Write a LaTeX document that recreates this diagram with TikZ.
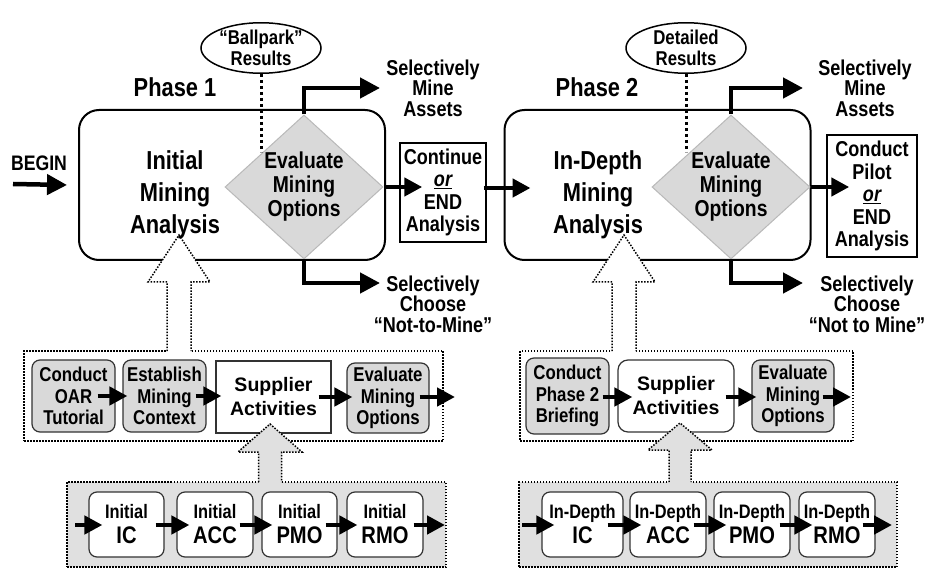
\documentclass[tikz,border=0pt]{standalone}
\usepackage{fontspec}
\setmainfont{Liberation Sans}
\newfontfamily\nar{Liberation Sans}[FakeStretch=0.84]
\usetikzlibrary{arrows.meta,shapes.geometric}
\definecolor{dgrey}{gray}{0.85}
\definecolor{lgrey}{gray}{0.88}
\tikzset{
  bigtxt/.style={font=\nar\bfseries\fontsize{26}{32}\selectfont, align=center, inner sep=0pt},
  phasetxt/.style={font=\nar\bfseries\fontsize{26}{30}\selectfont, inner sep=0pt},
  outtxt/.style={font=\nar\bfseries\fontsize{21.5}{20.5}\selectfont, align=center, inner sep=0pt},
  endbox/.style={draw, line width=1.5pt, fill=white, inner sep=0pt, align=center,
     font=\nar\bfseries\fontsize{21.5}{22.5}\selectfont},
  phasebox/.style={draw, line width=2pt, rounded corners=20pt, fill=white,
     minimum width=306pt, minimum height=150pt, inner sep=0pt},
  evaldia/.style={diamond, draw=gray!55, line width=1pt, fill=dgrey, shape aspect=1.1,
     minimum width=158pt, minimum height=144pt, inner sep=0pt, align=center,
     font=\nar\bfseries\fontsize{23}{24}\selectfont},
  resell/.style={ellipse, draw, line width=1.5pt, fill=white, minimum width=120pt,
     minimum height=47pt, inner sep=0pt, align=center,
     font=\nar\bfseries\fontsize{20}{21}\selectfont},
  dotline/.style={line width=1.5pt, dash pattern=on 1.5pt off 1.5pt},
  resline/.style={line width=3pt, dash pattern=on 3pt off 3pt},
  grpbox/.style={dotline, draw, fill=white, inner sep=0pt},
  lowbox/.style={dotline, draw, fill=lgrey, inner sep=0pt},
  greybox/.style={draw=black!80, line width=1.2pt, rounded corners=8pt, fill=dgrey,
     inner sep=0pt, align=center, font=\nar\bfseries\fontsize{20}{21.5}\selectfont},
  supbox/.style={draw=black!80, line width=1.2pt, fill=white, inner sep=0pt, align=center,
     font=\bfseries\fontsize{19.5}{24}\selectfont},
  stepbox/.style={draw=black!80, line width=1.2pt, rounded corners=8pt, fill=white,
     inner sep=0pt, align=center, minimum height=65pt,
     font=\nar\bfseries\fontsize{19.5}{25}\selectfont},
  arr/.style={line width=4.5pt, -{Triangle[length=20pt,width=20pt]}},
  sarr/.style={line width=4.5pt, -{Triangle[length=18pt,width=18pt]}},
}
\newcommand\bigln[1]{{\fontsize{24}{25}\selectfont #1}}
\begin{document}
\begin{tikzpicture}[x=1pt,y=-1pt]
\useasboundingbox (0,0) rectangle (926,569);
\fill[white] (0,0) rectangle (926,569);

% phase boxes
\node[phasebox] (P1) at (232,185) {};
\node[phasebox] (P2) at (657.5,185) {};

% group boxes
\node[grpbox, minimum width=419pt, minimum height=90pt] (G1) at (233.5,396) {};
\node[grpbox, minimum width=333pt, minimum height=90pt] (G2) at (686.5,396) {};
\node[lowbox, minimum width=379pt, minimum height=85pt] (L1) at (256.5,524.5) {};
\node[lowbox, minimum width=378pt, minimum height=85pt] (L2) at (708,524.5) {};

% phase 1 activities
\node[greybox, minimum width=83pt, minimum height=72pt] (A1) at (73.5,396) {Conduct\\OAR\\Tutorial};
\node[greybox, minimum width=83pt, minimum height=72pt] (A2) at (164.5,396) {Establish\\Mining\\Context};
\node[supbox, minimum width=115pt, minimum height=72pt] (A3) at (273.5,397) {Supplier\\Activities};
\node[greybox, minimum width=82pt, minimum height=70pt] (A4) at (388,398) {Evaluate\\Mining\\Options};

% phase 2 activities
\node[greybox, minimum width=83pt, minimum height=76pt] (B1) at (567.5,396) {Conduct\\Phase 2\\Briefing};
\node[supbox, rounded corners=10pt, minimum width=116pt, minimum height=72pt] (B2) at (676,396) {Supplier\\Activities};
\node[greybox, minimum width=82pt, minimum height=72pt] (B3) at (793,396) {Evaluate\\Mining\\Options};

% supplier steps
\node[stepbox, minimum width=75pt] (C1) at (126.5,524.5) {Initial\\\bigln{IC}};
\node[stepbox, minimum width=76pt] (C2) at (215,524.5) {Initial\\\bigln{ACC}};
\node[stepbox, minimum width=75pt] (C3) at (299.5,524.5) {Initial\\\bigln{PMO}};
\node[stepbox, minimum width=76pt] (C4) at (385,524.5) {Initial\\\bigln{RMO}};
\node[stepbox, minimum width=81pt] (D1) at (582.5,524.5) {In-Depth\\\bigln{IC}};
\node[stepbox, minimum width=76pt] (D2) at (668,524.5) {In-Depth\\\bigln{ACC}};
\node[stepbox, minimum width=76pt] (D3) at (752,524.5) {In-Depth\\\bigln{PMO}};
\node[stepbox, minimum width=76pt] (D4) at (837,524.5) {In-Depth\\\bigln{RMO}};

% hollow arrows (upper, white)
\fill[white] (148,282) -- (179,235) -- (210,282) -- (191,282) -- (191,353) -- (167,353) -- (167,282) -- cycle;
\draw[dotline] (167,351) -- (167,282) -- (148,282) -- (179,235) -- (210,282) -- (191,282) -- (191,351);
\fill[white] (593,282) -- (624,235) -- (655,282) -- (636,282) -- (636,353) -- (612,353) -- (612,282) -- cycle;
\draw[dotline] (612,351) -- (612,282) -- (593,282) -- (624,235) -- (655,282) -- (636,282) -- (636,351);
% hollow arrows (lower, grey)
\fill[lgrey] (238,452) -- (270,424) -- (302,452) -- (281.5,452) -- (281.5,484) -- (258.5,484) -- (258.5,452) -- cycle;
\draw[dotline] (258.5,482) -- (258.5,452) -- (238,452) -- (270,424) -- (302,452) -- (281.5,452) -- (281.5,482);
\fill[lgrey] (648,450) -- (680,423) -- (712,450) -- (691,450) -- (691,484) -- (669,484) -- (669,450) -- cycle;
\draw[dotline] (669,482) -- (669,450) -- (648,450) -- (680,423) -- (712,450) -- (691,450) -- (691,482);

% diamonds
\node[evaldia] (d1) at (304,187) {Evaluate\\Mining\\Options};
\node[evaldia] (d2) at (731,187) {Evaluate\\Mining\\Options};

% texts
\node[bigtxt] (t1) at (175,195) {Initial\\Mining\\Analysis};
\node[bigtxt] (t2) at (598,195) {In-Depth\\Mining\\Analysis};
\node[phasetxt] (ph1) at (175,87) {Phase 1};
\node[phasetxt] (ph2) at (597,87) {Phase 2};
\node[font=\nar\bfseries\fontsize{21}{24}\selectfont, inner sep=0pt] (beg) at (39,163) {BEGIN};
\node[outtxt] (sm1) at (433,88) {Selectively\\Mine\\Assets};
\node[outtxt] (sm2) at (865,88) {Selectively\\Mine\\Assets};
\node[outtxt] (sc1) at (433,304) {Selectively\\Choose\\“Not-to-Mine”};
\node[outtxt] (sc2) at (867,304) {Selectively\\Choose\\“Not to Mine”};
\node[endbox, minimum width=86pt, minimum height=99pt] (cont) at (443,192.5) {Continue\\\underline{\itshape or}\\END\\Analysis};
\node[endbox, minimum width=90pt, minimum height=122pt] (pilot) at (872,196) {Conduct\\Pilot\\\underline{\itshape or}\\END\\Analysis};

% result ellipses
\node[resell] (e1) at (261,48) {“Ballpark”\\Results};
\node[resell] (e2) at (686,48) {Detailed\\Results};
\coordinate (e1end) at (261,152);
\coordinate (e2end) at (686,152);
\draw[resline] (e1.south) -- (e1end);
\draw[resline] (e2.south) -- (e2end);

% free ends
\coordinate (begin) at (13,184);
\coordinate (up1) at (380,88);
\coordinate (dn1) at (380,283);
\coordinate (up2) at (803,88);
\coordinate (dn2) at (803,283);
\coordinate (g1out) at (455,397);
\coordinate (g2out) at (851,397);
\coordinate (c0) at (75,525);
\coordinate (c5) at (445,525);
\coordinate (d0) at (522,525);
\coordinate (d5) at (892,525);

% main flow arrows
\draw[arr] (begin) -- ([xshift=-11pt]P1.west);
\draw[arr] (d1.north) |- (up1);
\draw[arr] (d1.south) |- (dn1);
\draw[arr] (d2.north) |- (up2);
\draw[arr] (d2.south) |- (dn2);
\draw[sarr] (d1.east) -- ([xshift=23pt]cont.west |- d1.east);
\draw[sarr] ([xshift=-3pt]cont.east |- 0,188) -- ([xshift=27pt]P2.west |- 0,188);
\draw[sarr] (d2.east) -- ([xshift=23pt]pilot.west |- d2.east);

% group arrows
\draw[sarr] ([xshift=-18pt]A1.east) -- ([xshift=5pt]A2.west);
\draw[sarr] ([xshift=-11pt]A2.east) -- ([xshift=6pt]A3.west |- A2.east);
\draw[sarr] ([xshift=-13pt]A3.east) -- ([xshift=6pt]A4.west |- A3.east);
\draw[sarr] ([xshift=-10pt]A4.east |- A3.east) -- (g1out);
\draw[sarr] ([xshift=-7pt]B1.east |- 0,397) -- ([xshift=15pt]B2.west |- 0,397);
\draw[sarr] ([xshift=-9pt]B2.east |- 0,397) -- ([xshift=5pt]B3.west |- 0,397);
\draw[sarr] ([xshift=-12pt]B3.east |- 0,397) -- (g2out);

% step arrows
\draw[sarr] (c0) -- ([xshift=14pt]C1.west |- c0);
\draw[sarr] ([xshift=-9pt]C1.east |- c0) -- ([xshift=13pt]C2.west |- c0);
\draw[sarr] ([xshift=-14pt]C2.east |- c0) -- ([xshift=11pt]C3.west |- c0);
\draw[sarr] ([xshift=-12pt]C3.east |- c0) -- ([xshift=11pt]C4.west |- c0);
\draw[sarr] ([xshift=-10pt]C4.east |- c0) -- (c5);
\draw[sarr] (d0) -- ([xshift=13pt]D1.west |- d0);
\draw[sarr] ([xshift=-16pt]D1.east |- d0) -- ([xshift=12pt]D2.west |- d0);
\draw[sarr] ([xshift=-13pt]D2.east |- d0) -- ([xshift=13pt]D3.west |- d0);
\draw[sarr] ([xshift=-11pt]D3.east |- d0) -- ([xshift=14pt]D4.west |- d0);
\draw[sarr] ([xshift=-13pt]D4.east |- d0) -- (d5);
\end{tikzpicture}
\end{document}
